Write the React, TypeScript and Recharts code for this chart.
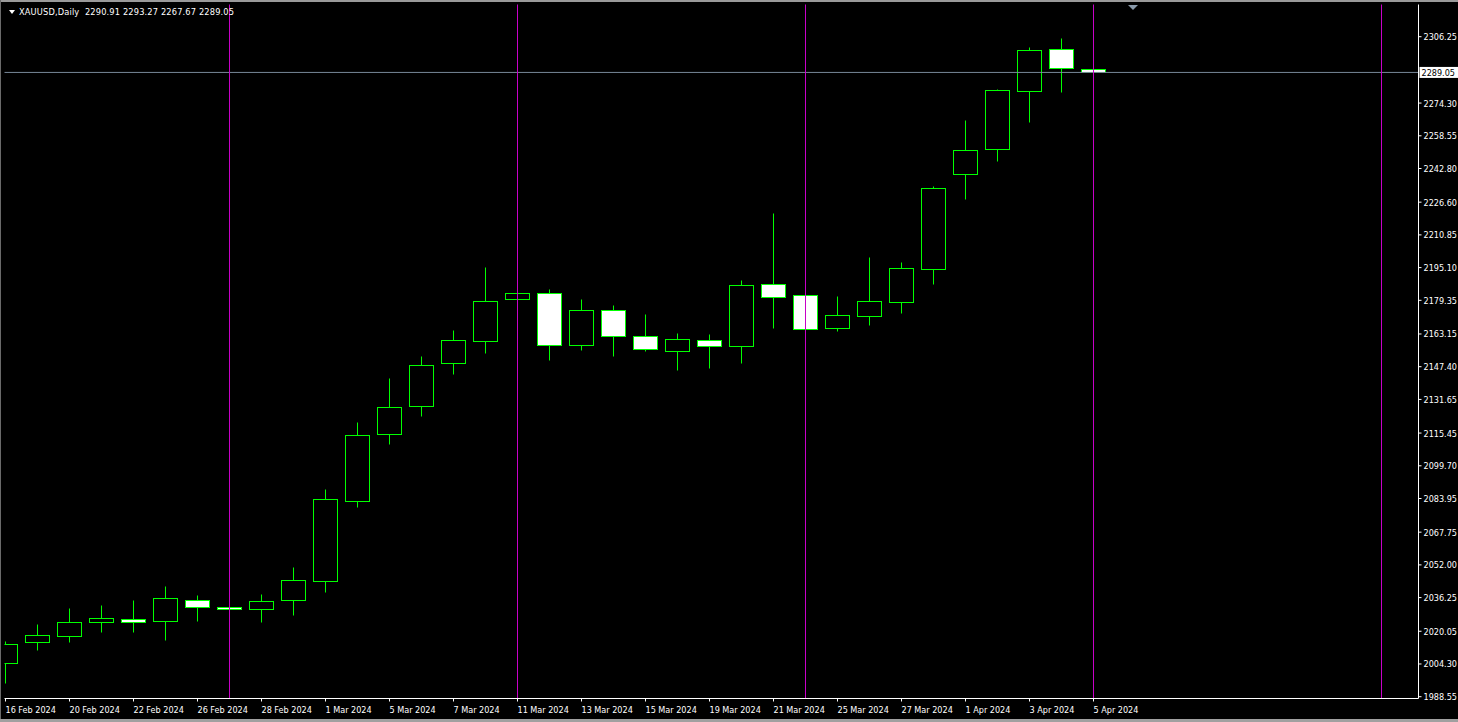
import React from "react";
import { ComposedChart, Bar, XAxis, YAxis, ReferenceLine } from "recharts";

// trading days shown on the chart (weekends / Good Friday absent)
const dates = [
  "16 Feb 2024", "19 Feb 2024", "20 Feb 2024", "21 Feb 2024", "22 Feb 2024", "23 Feb 2024",
  "26 Feb 2024", "27 Feb 2024", "28 Feb 2024", "29 Feb 2024", "1 Mar 2024", "4 Mar 2024",
  "5 Mar 2024", "6 Mar 2024", "7 Mar 2024", "8 Mar 2024", "11 Mar 2024", "12 Mar 2024",
  "13 Mar 2024", "14 Mar 2024", "15 Mar 2024", "18 Mar 2024", "19 Mar 2024", "20 Mar 2024",
  "21 Mar 2024", "22 Mar 2024", "25 Mar 2024", "26 Mar 2024", "27 Mar 2024", "28 Mar 2024",
  "1 Apr 2024", "2 Apr 2024", "3 Apr 2024", "4 Apr 2024", "5 Apr 2024",
];
const opens = [
  2004.6, 2015.0, 2017.9, 2024.4, 2025.8, 2024.9, 2035.0, 2031.6, 2030.6, 2035.3, 2044.1, 2082.8,
  2114.9, 2128.4, 2149.1, 2159.7, 2180.2, 2182.8, 2158.0, 2174.6, 2162.1, 2155.1, 2160.2, 2157.6,
  2187.1, 2181.8, 2165.9, 2171.7, 2178.4, 2194.3, 2240.1, 2252.1, 2280.0, 2300.2, 2290.91,
];
const highs = [
  2015.3, 2023.5, 2031.1, 2032.7, 2035.0, 2041.9, 2037.6, 2033.0, 2038.0, 2051.0, 2088.6, 2120.8,
  2142.0, 2152.6, 2165.1, 2195.4, 2184.0, 2184.9, 2180.0, 2177.1, 2172.8, 2163.7, 2163.2, 2189.2,
  2221.4, 2188.0, 2181.5, 2200.3, 2197.8, 2234.4, 2266.2, 2281.1, 2301.3, 2305.7, 2293.27,
];
const lows = [
  1995.3, 2011.2, 2015.0, 2019.9, 2019.9, 2016.0, 2025.2, 2029.0, 2024.7, 2028.1, 2039.1, 2079.9,
  2110.4, 2123.9, 2144.1, 2154.2, 2178.5, 2150.7, 2155.5, 2152.6, 2155.1, 2145.9, 2146.8, 2149.2,
  2166.1, 2163.0, 2164.5, 2167.5, 2173.4, 2187.4, 2228.3, 2246.6, 2265.4, 2279.8, 2267.67,
];
const closes = [
  2013.8, 2018.1, 2024.4, 2026.3, 2024.4, 2035.9, 2031.6, 2030.6, 2034.5, 2044.6, 2083.8, 2114.4,
  2127.9, 2148.1, 2160.1, 2178.9, 2182.8, 2158.0, 2174.6, 2162.4, 2156.1, 2160.8, 2157.6, 2186.6,
  2181.1, 2165.7, 2172.2, 2178.9, 2194.8, 2233.3, 2251.6, 2280.5, 2299.8, 2291.1, 2289.05,
];

const dateTicks = [0, 2, 4, 6, 8, 10, 12, 14, 16, 18, 20, 22, 24, 26, 28, 30, 32, 34];
const priceTicks = [
  2306.25, 2274.3, 2258.55, 2242.8, 2226.6, 2210.85, 2195.1, 2179.35, 2163.15, 2147.4,
  2131.65, 2115.45, 2099.7, 2083.95, 2067.75, 2052.0, 2036.25, 2020.05, 2004.3, 1988.55,
];
const vLines = [7, 16, 25, 34, 43]; // bar indexes of the vertical line objects
const lastBar = [2290.91, 2293.27, 2267.67, 2289.05];
const symbol = "XAUUSD,Daily";

const data = dates.map((date, i) => ({
  idx: i,
  date,
  open: opens[i],
  high: highs[i],
  low: lows[i],
  close: closes[i],
}));

const LIME = "#00ff00";
const FONT = "'DejaVu Sans Condensed', 'DejaVu Sans', sans-serif";

function Candle(props: any) {
  const { x, y, width, height, payload } = props;
  if (x == null || !payload) return null;
  const top = Math.min(y, y + height);
  const bottom = Math.max(y, y + height);
  const range = payload.high - payload.low;
  const k = range > 0 ? (bottom - top) / range : 0;
  const py = (v: number) => Math.round(top + (payload.high - v) * k) + 0.5;
  const cx = Math.floor(x + width / 2) + 0.5;
  const yo = py(payload.open);
  const yc = py(payload.close);
  const bTop = Math.min(yo, yc);
  const bBot = Math.max(yo, yc);
  const bull = payload.close > payload.open;
  return (
    <g>
      <line x1={cx} x2={cx} y1={py(payload.high)} y2={bTop} stroke={LIME} />
      <line x1={cx} x2={cx} y1={bBot} y2={py(payload.low)} stroke={LIME} />
      <rect
        x={cx - 12}
        y={bTop}
        width={24}
        height={Math.max(bBot - bTop, 0)}
        fill={bull ? "#000000" : "#ffffff"}
        stroke={LIME}
      />
    </g>
  );
}

function DateTick(props: any) {
  const { x, y, payload } = props;
  return (
    <text x={x} y={y + 9} fill="#ffffff" fontSize={9} fontFamily={FONT} textAnchor="start">
      {dates[payload.value]}
    </text>
  );
}

function PriceTick(props: any) {
  const { x, y, payload } = props;
  return (
    <text x={x} y={y + 3.5} fill="#ffffff" fontSize={9} fontFamily={FONT} textAnchor="start">
      {Number(payload.value).toFixed(2)}
    </text>
  );
}

function PriceLabel(props: any) {
  const vb = props.viewBox;
  if (!vb) return null;
  const lx = vb.x + vb.width + 1;
  return (
    <g>
      <rect x={lx} y={vb.y - 5.5} width={39} height={11} fill="#ffffff" />
      <text x={lx + 2} y={vb.y + 3.5} fill="#000000" fontSize={9} fontFamily={FONT}>
        {lastBar[3].toFixed(2)}
      </text>
    </g>
  );
}

export default function App() {
  return (
    <div
      style={{
        position: "fixed",
        left: 0,
        top: 0,
        width: 1458,
        height: 722,
        background: "#000000",
        overflow: "hidden",
      }}
    >
      <div style={{ position: "absolute", left: 0, top: 0, width: 1458, height: 2, background: "#9a9a9a" }} />
      <div style={{ position: "absolute", left: 0, top: 0, width: 1, height: 722, background: "#6a6a6a" }} />
      <div style={{ position: "absolute", left: 0, top: 719, width: 1458, height: 3, background: "#a0a0a0" }} />
      <div style={{ position: "absolute", left: 0, top: 0 }}>
        <ComposedChart
          width={1458}
          height={722}
          data={data}
          margin={{ top: 4.5, left: 4.5, right: 0, bottom: 0 }}
        >
          <XAxis
            xAxisId="main"
            dataKey="idx"
            type="number"
            domain={[-0.03125, 44.15625]}
            allowDataOverflow
            ticks={dateTicks}
            interval={0}
            height={23.5}
            tickSize={3}
            tickLine={{ stroke: "#ffffff" }}
            axisLine={{ stroke: "#ffffff" }}
            tick={<DateTick />}
          />
          <XAxis
            xAxisId="frame"
            orientation="top"
            type="number"
            domain={[0, 1]}
            height={0}
            tick={false}
            tickLine={false}
            axisLine={{ stroke: "#ffffff" }}
          />
          <YAxis
            yAxisId="price"
            orientation="right"
            type="number"
            domain={[1987.68, 2321.75]}
            allowDataOverflow
            ticks={priceTicks}
            interval={0}
            width={39.5}
            tickSize={3}
            tickLine={{ stroke: "#ffffff" }}
            axisLine={{ stroke: "#ffffff" }}
            tick={<PriceTick />}
          />
          <YAxis
            yAxisId="frame"
            orientation="left"
            type="number"
            domain={[0, 1]}
            width={0}
            tick={false}
            tickLine={false}
            axisLine={{ stroke: "#ffffff" }}
          />
          <ReferenceLine
            xAxisId="main"
            yAxisId="price"
            y={lastBar[3]}
            stroke="#778899"
            label={PriceLabel}
          />
          <Bar
            xAxisId="main"
            yAxisId="price"
            dataKey={(d: any) => [d.low, d.high]}
            barSize={24}
            shape={<Candle />}
            isAnimationActive={false}
          />
          {vLines.map((v) => (
            <ReferenceLine
              key={v}
              xAxisId="main"
              yAxisId="price"
              x={v}
              stroke="#c800c8"
            />
          ))}
        </ComposedChart>
      </div>
      <div
        style={{
          position: "absolute",
          left: 9,
          top: 10,
          width: 0,
          height: 0,
          borderLeft: "3.5px solid transparent",
          borderRight: "3.5px solid transparent",
          borderTop: "4px solid #ffffff",
        }}
      />
      <div
        style={{
          position: "absolute",
          left: 19,
          top: 6,
          color: "#ffffff",
          fontFamily: FONT,
          fontSize: 9.2,
          letterSpacing: "0.15px",
          whiteSpace: "pre",
          lineHeight: "12px",
        }}
      >
        {`${symbol}  ${lastBar.map((v) => v.toFixed(2)).join(" ")}`}
      </div>
      <div
        style={{
          position: "absolute",
          left: 1128,
          top: 5,
          width: 0,
          height: 0,
          borderLeft: "5px solid transparent",
          borderRight: "5px solid transparent",
          borderTop: "5px solid #8a9aaa",
        }}
      />
    </div>
  );
}
